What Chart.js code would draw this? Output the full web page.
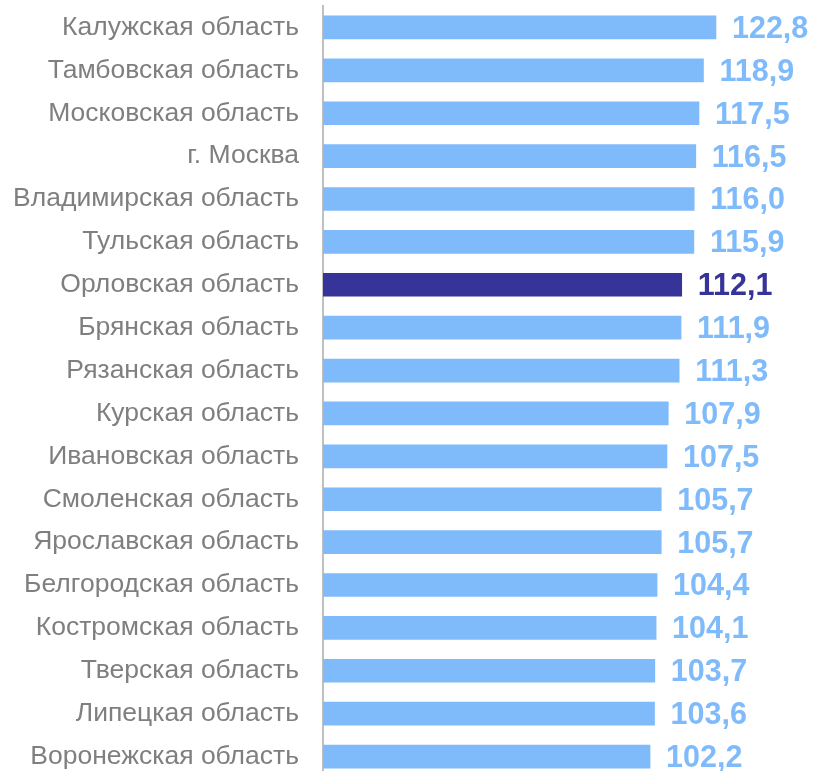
<!DOCTYPE html>
<html><head><meta charset="utf-8">
<script src="https://cdn.jsdelivr.net/npm/chart.js@4"></script>
<style>html,body{margin:0;padding:0;overflow:hidden;background:#fff}#wrap{width:815px;height:778px;position:relative}</style>
</head><body><div id="wrap"><canvas id="c"></canvas></div>
<script>
const categories = ["Калужская область","Тамбовская область","Московская область","г. Москва","Владимирская область","Тульская область","Орловская область","Брянская область","Рязанская область","Курская область","Ивановская область","Смоленская область","Ярославская область","Белгородская область","Костромская область","Тверская область","Липецкая область","Воронежская область"];
const values = [122.8,118.9,117.5,116.5,116.0,115.9,112.1,111.9,111.3,107.9,107.5,105.7,105.7,104.4,104.1,103.7,103.6,102.2];
const highlight = "Орловская область";
const LIGHT = "#7fbbfb", DARK = "#363399";
const colors = categories.map(c => c === highlight ? DARK : LIGHT);

const valueLabels = {
  id: 'valueLabels',
  afterDatasetsDraw(chart) {
    const ctx = chart.ctx;
    const meta = chart.getDatasetMeta(0);
    ctx.save();
    ctx.font = 'bold 30.5px "Liberation Sans", Arial, sans-serif';
    ctx.textAlign = 'left';
    ctx.textBaseline = 'middle';
    meta.data.forEach((bar, i) => {
      ctx.fillStyle = colors[i];
      ctx.fillText(values[i].toFixed(1).replace('.', ','), bar.x + 16, bar.y + 2);
    });
    ctx.restore();
  }
};

new Chart(document.getElementById('c'), {
  type: 'bar',
  data: { labels: categories, datasets: [{ data: values, backgroundColor: colors, barThickness: 23, borderWidth: 0 }] },
  options: {
    indexAxis: 'y', responsive: true, maintainAspectRatio: false, animation: false,
    layout: { padding: { top: 6, right: 12, left: 0, bottom: 0 } },
    plugins: { legend: { display: false }, tooltip: { enabled: false } },
    scales: {
      x: { display: false, min: 0, max: 150 },
      y: {
        grid: { display: false, drawTicks: false },
        border: { display: true, color: '#c0c0c0', width: 2 },
        ticks: { color: '#7f7f7f', padding: 24, font: { family: '"Liberation Sans", Arial, sans-serif', size: 26.5 } },
        afterFit(scale) { scale.width = 323; scale.paddingTop = 0; scale.paddingBottom = 0; }
      }
    }
  },
  plugins: [valueLabels]
});
</script></body></html>
